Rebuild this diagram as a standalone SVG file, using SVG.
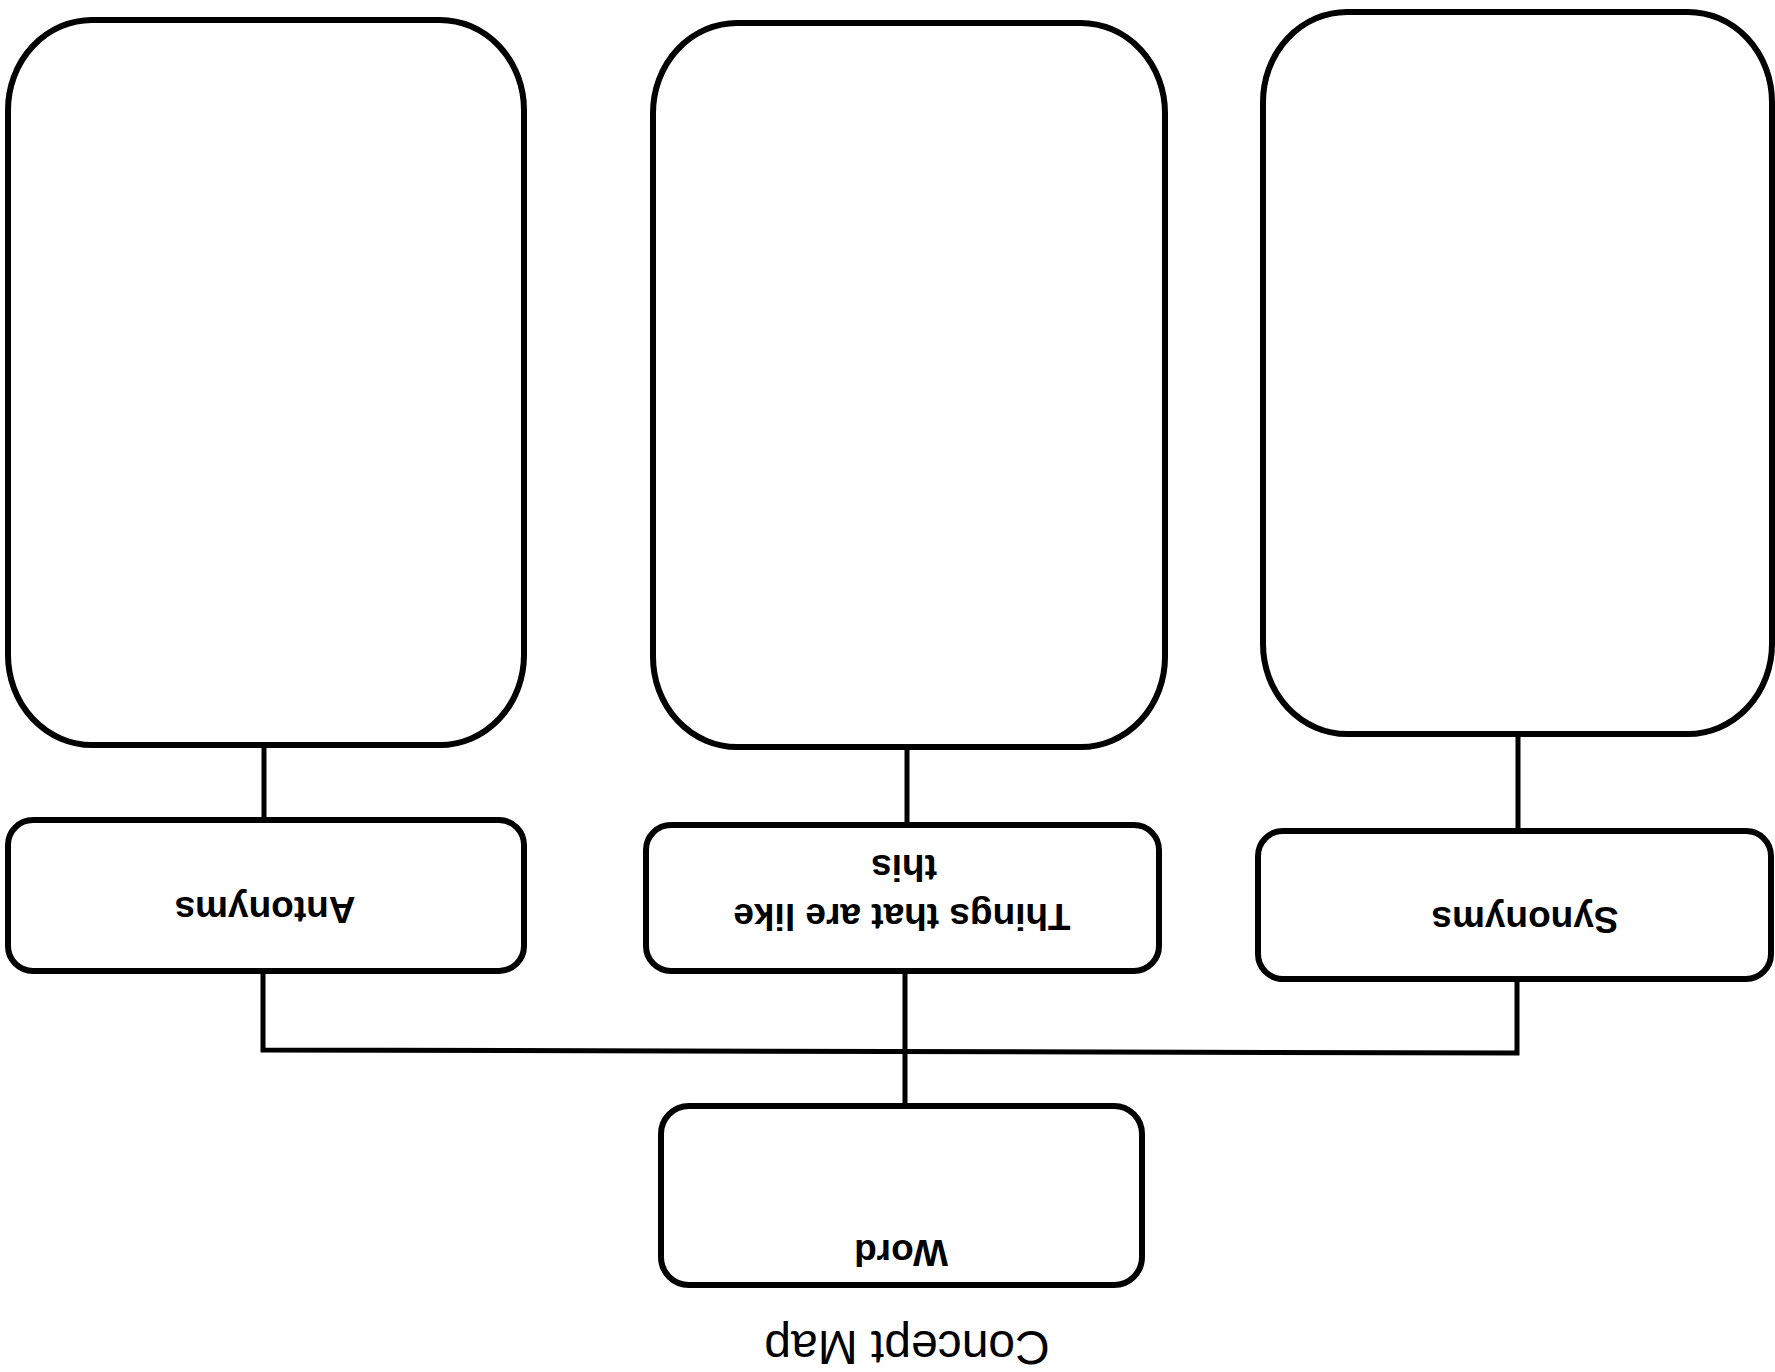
<svg xmlns="http://www.w3.org/2000/svg" width="1775" height="1372" viewBox="0 0 1775 1372">
  <style>
    .box { fill: #ffffff; stroke: #000000; stroke-width: 6; }
    .link { fill: none; stroke: #000000; stroke-width: 5; stroke-linecap: square; stroke-linejoin: miter; }
    .label { font-family: "Liberation Sans", Arial, sans-serif; font-weight: bold; font-size: 37px; fill: #000000; text-anchor: middle; }
    .title { font-family: "Liberation Sans", Arial, sans-serif; font-size: 48px; fill: #000000; text-anchor: middle; }
  </style>
  <rect width="1775" height="1372" fill="#ffffff"/>

  <!-- connectors -->
  <g id="connectors">
    <line class="link" x1="264" y1="746" x2="264" y2="818"/>
    <line class="link" x1="907" y1="749" x2="907" y2="824"/>
    <line class="link" x1="1518" y1="736" x2="1518" y2="830"/>
    <polyline class="link" points="263,971 263,1050 1517,1053 1517,979"/>
    <line class="link" x1="905" y1="972" x2="905" y2="1105"/>
  </g>

  <!-- large answer boxes -->
  <g id="antonyms-box">
    <rect class="box" x="8" y="20" width="516" height="725" rx="84" ry="90"/>
  </g>
  <g id="like-this-box">
    <rect class="box" x="653" y="23" width="512" height="724" rx="84" ry="90"/>
  </g>
  <g id="synonyms-box">
    <rect class="box" x="1263" y="12" width="509" height="722" rx="84" ry="90"/>
  </g>

  <!-- category labels (printed upside down) -->
  <g id="antonyms">
    <rect class="box" x="8" y="820" width="516" height="151" rx="25" ry="25"/>
    <text class="label" x="265" y="923" transform="rotate(180 265 910)">Antonyms</text>
  </g>
  <g id="things-like-this">
    <rect class="box" x="646" y="825" width="513" height="146" rx="25" ry="25"/>
    <text class="label" x="902" y="930" transform="rotate(180 902 917)">Things that are like</text>
    <text class="label" x="904" y="881" transform="rotate(180 904 868)">this</text>
  </g>
  <g id="synonyms">
    <rect class="box" x="1258" y="831" width="513" height="148" rx="25" ry="25"/>
    <text class="label" x="1525" y="933" transform="rotate(180 1525 920)">Synonyms</text>
  </g>
  <g id="word">
    <rect class="box" x="661" y="1106" width="481" height="179" rx="28" ry="28"/>
    <text class="label" x="901" y="1266" transform="rotate(180 901 1253)">Word</text>
  </g>

  <!-- page title -->
  <text id="title" class="title" x="907" y="1365" transform="rotate(180 907 1348)">Concept Map</text>
</svg>
